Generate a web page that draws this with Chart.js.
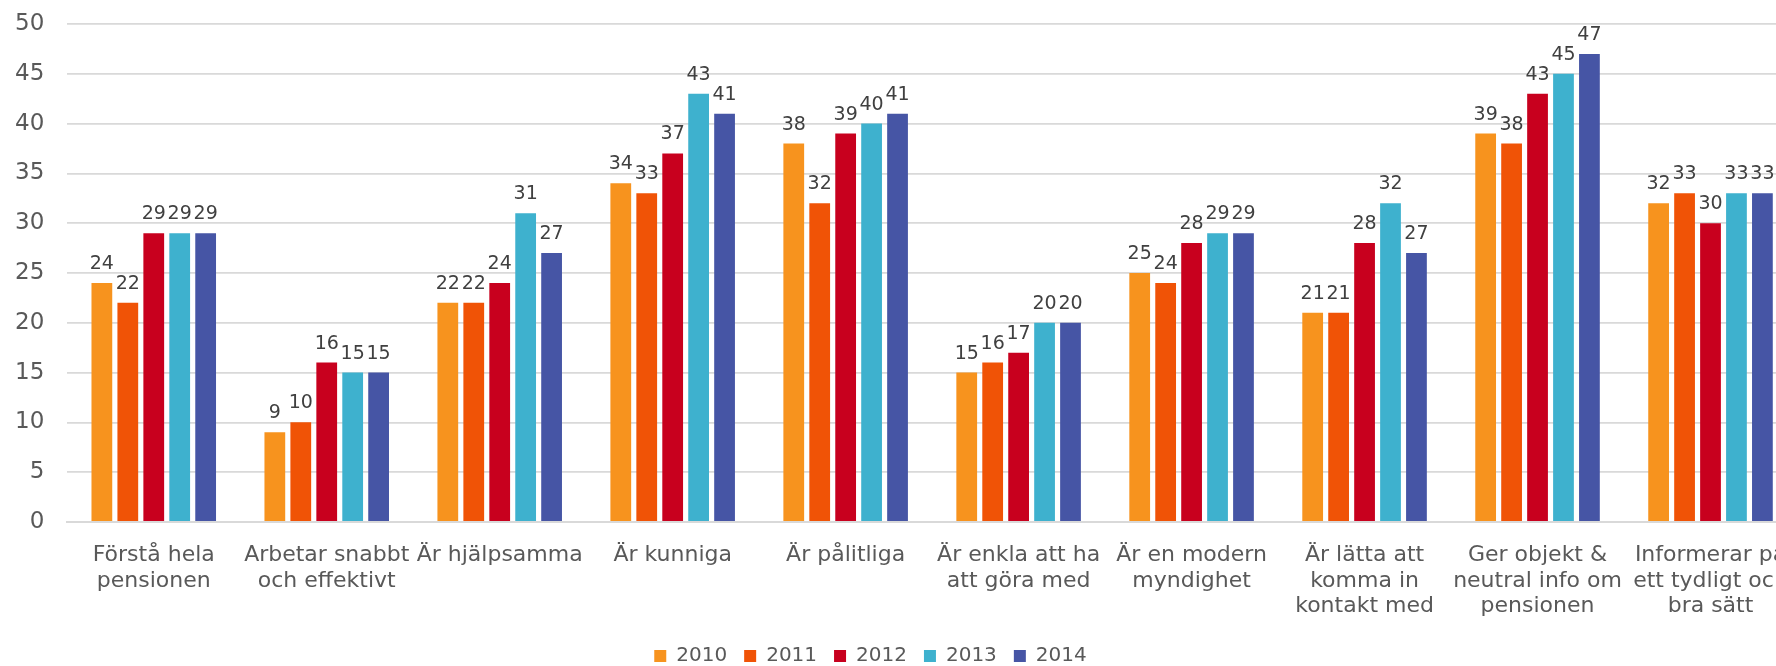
<!DOCTYPE html>
<html>
<head>
<meta charset="utf-8">
<script src="https://cdn.jsdelivr.net/npm/chart.js@4.4.1/dist/chart.umd.min.js"></script>
<style>
  html, body { margin: 0; padding: 0; background: #fff; overflow: hidden; }
  #wrap { width: 1800px; height: 666px; position: relative; }
</style>
</head>
<body>
<div id="wrap"><canvas id="chart"></canvas></div>
<script>
// kategorier (radbrytningar som i originalet)
const categories = [
    ['Förstå hela', 'pensionen'],
    ['Arbetar snabbt', 'och effektivt'],
    ['Är hjälpsamma'],
    ['Är kunniga'],
    ['Är pålitliga'],
    ['Är enkla att ha', 'att göra med'],
    ['Är en modern', 'myndighet'],
    ['Är lätta att', 'komma in', 'kontakt med'],
    ['Ger objekt &', 'neutral info om', 'pensionen'],
    ['Informerar på', 'ett tydligt och', 'bra sätt']
];

const years = ['2010', '2011', '2012', '2013', '2014'];

const values2010 = [24, 9, 22, 34, 38, 15, 25, 21, 39, 32];
const values2011 = [22, 10, 22, 33, 32, 16, 24, 21, 38, 33];
const values2012 = [29, 16, 24, 37, 39, 17, 28, 28, 43, 30];
const values2013 = [29, 15, 31, 43, 40, 20, 29, 32, 45, 33];
const values2014 = [29, 15, 27, 41, 41, 20, 29, 27, 47, 33];

const yTicks = [0, 5, 10, 15, 20, 25, 30, 35, 40, 45, 50];

const colors = ['#F7931E', '#F05306', '#C8001E', '#3EB1CE', '#4655A5'];
const series = [values2010, values2011, values2012, values2013, values2014];

const FONT = '"DejaVu Sans", Verdana, sans-serif';

// värden ovanför staplarna
const barValues = {
    id: 'barValues',
    afterDatasetsDraw(chart) {
        const c = chart.ctx;
        c.save();
        c.font = '19px ' + FONT;
        c.fillStyle = '#404040';
        c.textAlign = 'center';
        c.textBaseline = 'alphabetic';
        chart.data.datasets.forEach((ds, i) => {
            const meta = chart.getDatasetMeta(i);
            meta.data.forEach((bar, j) => {
                c.fillText(ds.data[j], bar.x, bar.y - 14);
            });
        });
        c.restore();
    }
};

// flytta legenden (originalet är beskuret till höger)
const legendShift = {
    id: 'legendShift',
    afterLayout(chart) {
        const lg = chart.legend;
        if (!lg) return;
        lg.left -= 24;
        lg.right -= 24;
        lg.top -= 11.5;
        lg.bottom -= 11.5;
        if (lg.adjustHitBoxes) lg.adjustHitBoxes();
    }
};

new Chart(document.getElementById('chart'), {
    type: 'bar',
    data: {
        labels: categories,
        datasets: series.map((data, i) => ({
            label: years[i],
            data: data,
            backgroundColor: colors[i],
            borderWidth: 0,
            categoryPercentage: 0.75,
            barPercentage: 0.8
        }))
    },
    options: {
        responsive: true,
        maintainAspectRatio: false,
        animation: false,
        layout: {
            padding: { left: -8, right: 3, top: 0, bottom: -21.5 }
        },
        plugins: {
            tooltip: { enabled: false },
            legend: {
                position: 'bottom',
                labels: {
                    font: { family: FONT, size: 20 },
                    color: '#595959',
                    boxWidth: 12,
                    boxHeight: 12,
                    padding: 17
                }
            }
        },
        scales: {
            x: {
                grid: { display: false, drawTicks: false },
                border: { display: true, color: '#d9d9d9', width: 2 },
                ticks: {
                    font: { family: FONT, size: 22, lineHeight: 1.16 },
                    color: '#595959',
                    autoSkip: false,
                    maxRotation: 0,
                    minRotation: 0,
                    padding: 21
                },
                afterFit(scale) {
                    scale.paddingLeft = 0;
                    scale.paddingRight = 0;
                }
            },
            y: {
                min: 0,
                max: 50,
                afterBuildTicks(scale) {
                    scale.ticks = yTicks.map(v => ({ value: v }));
                },
                afterFit(scale) {
                    scale.paddingTop = 24;
                },
                grid: { color: '#d9d9d9', lineWidth: 1.7, drawTicks: false },
                border: { display: false },
                ticks: {
                    font: { family: FONT, size: 23 },
                    color: '#595959',
                    padding: 23
                }
            }
        }
    },
    plugins: [barValues, legendShift]
});
</script>
</body>
</html>
